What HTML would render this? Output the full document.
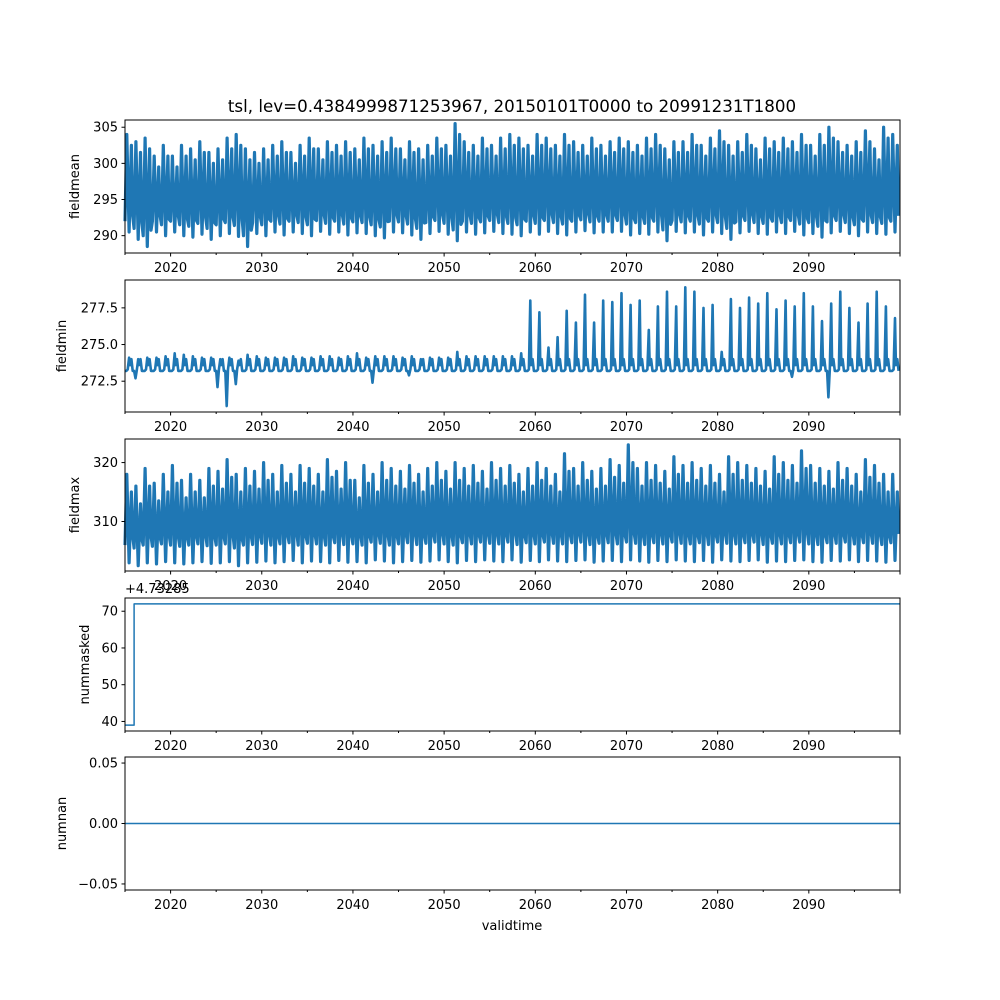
<!DOCTYPE html>
<html><head><meta charset="utf-8"><style>
body{margin:0;background:#fff}
svg{font-family:"DejaVu Sans","Liberation Sans",sans-serif;display:block}
</style></head><body>
<svg id="fig" width="1000" height="1000" viewBox="0 0 1000 1000">
<rect width="1000" height="1000" fill="#fff"/>
<text x="512" y="112" font-size="16.7" text-anchor="middle">tsl, lev=0.4384999871253967, 20150101T0000 to 20991231T1800</text>
<text x="512" y="930" font-size="13" text-anchor="middle">validtime</text>
<text x="125" y="593" font-size="13">+4.73285</text>
</svg>
<script>
// data (yearly values 2015..2099)
const years=[];for(let y=2015;y<2100;y++)years.push(y);
const meanHi=[304,303,303.5,301,302.5,301,302.5,302,303,301.5,302,303.5,304,302,301.5,302,302.5,303,301.5,302.5,303.5,302,303,302.5,303,302,303.5,302.5,303,303.5,302,303,302,302.5,303.5,302.5,305.5,303,302.5,303.5,302.5,303.5,304,303.5,302.5,304,303.5,302.5,304,303,302.5,303.5,302.5,303,303.5,303,302.5,303.5,304,302,303,303,304,302.5,303.5,304.5,302.5,303,304,302,303.5,303,303.5,303,304,302.5,304,305,303,302.5,303,304.5,302,305,304];
const meanLo=[290.5,289.5,288.5,290.5,290,290.5,290,289.8,290.2,289.5,290,290.3,289.9,288.5,290.3,290,290.5,290.1,290.5,290.3,290,290.6,290.2,290.5,290.1,290.4,290.3,290,289.7,290.5,290.4,290.1,289.5,290.3,290.6,290.2,289.3,290.5,290.2,290.4,290.6,290.3,290.2,290,290.5,290.2,290.6,290.3,290.1,290.5,290.7,290.4,290.5,290.5,290.6,290.1,290.3,290.2,290.5,289.3,290.6,290.4,290.5,290.1,290.5,290.3,289.5,290.4,290.6,290.3,290.2,290.5,290.3,290.6,290.1,290.3,289.8,290.4,290.6,290.3,290,290.5,290.3,290.2,290.5];
const minHi=[274.1,274.0,274.1,274.1,274.2,274.4,274.3,274.2,274.1,274.1,274.0,274.1,273.9,274.3,274.2,274.1,274.1,274.1,274.2,274.1,274.1,274.2,274.2,274.1,274.2,274.4,274.1,274.2,274.2,274.2,274.1,274.2,274.0,274.1,274.1,274.1,274.5,274.2,274.2,274.2,274.2,274.2,274.2,274.4,278.0,277.2,274.8,275.5,277.3,276.5,278.4,276.5,278.0,277.9,278.5,277.7,278.0,276.0,277.6,278.6,277.6,278.9,278.6,277.5,277.7,274.5,278.1,277.5,278.2,277.8,278.5,277.4,278.0,277.6,278.5,277.6,276.6,277.8,278.6,277.5,276.5,277.8,278.6,277.6,276.8];
const minLo=[273.2,272.7,273.2,273.2,273.2,273.2,273.2,273.2,273.2,273.2,272.1,270.8,272.3,273.2,273.2,273.2,273.2,273.2,273.2,273.2,273.2,273.2,273.2,273.2,273.2,273.2,273.2,272.4,273.2,273.2,273.2,272.9,273.2,273.2,273.2,273.2,273.2,273.2,273.2,273.2,273.2,273.2,273.2,273.2,273.2,273.2,273.2,273.2,273.2,273.2,273.2,273.2,273.2,273.2,273.2,273.2,273.2,273.2,273.2,273.2,273.2,273.2,273.2,273.2,273.2,273.2,273.2,273.2,273.2,273.2,273.2,273.2,273.2,272.8,273.2,273.2,273.2,271.4,273.2,273.2,273.2,273.2,273.2,273.2,273.2];
const maxHi=[318,316,319,316.5,318,319.5,317,318,317,319,318.5,320.5,318,319,318.5,320,318,319.5,318,319.5,319,318,320.5,318.5,320,317,319.5,318,320,319,318.5,319.5,318,319,320,318.5,320,319,319.5,318.5,320,319,319.5,318,319,320,319,318,321.5,319,320,318.5,319,320.5,319.5,323,319,320,319.5,318.5,321,319.5,320,319,319.5,318,321,320,319.5,319,318.5,321,320,319.5,322,319.5,319,318.5,320,319,318,320.5,319.5,318,318];
const maxLo=[303,302.5,303,302.8,303.2,303,302.8,303,303.2,302.9,303,303.2,302.5,303,303.1,303.3,303,303.2,303.4,303,303.3,303.2,303,303.4,303.1,303.2,303,303.5,303.3,303,303.2,303.4,303.1,303.3,303.5,303.2,303,303.4,303.2,303.5,303.3,303.2,303.5,303.1,303.4,303.2,303.5,303.3,303.2,303.4,303.5,303.1,303.3,303.4,303.2,303.5,303.3,303.1,303.4,303.2,303.5,303.3,303.2,303.4,303.1,303.5,303.3,303.2,303.4,303.5,303.1,303.3,303.2,303.4,303.5,303.2,303.1,303.4,303.3,303.5,303.2,303.4,303.3,303.1,303.4];
const maskedT=[2015.0,2016.0,2016.0,2100.0];
const maskedV=[39,39,72,72];
const xTicks=[2020,2030,2040,2050,2060,2070,2080,2090];
const xMinor=[2015,2025,2035,2045,2055,2065,2075,2085,2095];
const panels=[
 {name:'fieldmean',top:120,bot:253,lo:287.6,hi:306.0,ticks:[290,295,300,305],lbl:['290','295','300','305']},
 {name:'fieldmin',top:280,bot:412,lo:270.4,hi:279.4,ticks:[272.5,275.0,277.5],lbl:['272.5','275.0','277.5']},
 {name:'fieldmax',top:439,bot:571,lo:301.6,hi:324.0,ticks:[310,320],lbl:['310','320']},
 {name:'nummasked',top:598,bot:731,lo:37.4,hi:73.6,ticks:[40,50,60,70],lbl:['40','50','60','70']},
 {name:'numnan',top:757,bot:890,lo:-0.055,hi:0.055,ticks:[-0.05,0,0.05],lbl:['\u22120.05','0.00','0.05']}
];
const NS='http://www.w3.org/2000/svg',svg=document.getElementById('fig');
const X0=125,X1=900,T0=2015,T1=2100;
const xs=t=>X0+(t-T0)/(T1-T0)*(X1-X0);
function mk(tag,attrs,parent){const e=document.createElementNS(NS,tag);for(const k in attrs)e.setAttribute(k,attrs[k]);(parent||svg).appendChild(e);return e;}
const C='#1f77b4';
panels.forEach((p,pi)=>{
 const ys=v=>p.bot-(v-p.lo)/(p.hi-p.lo)*(p.bot-p.top);
 const g=mk('g',{});
 
 
 let pts=[];
 if(pi===0||pi===2){
  const H=pi===0?meanHi:maxHi,L=pi===0?meanLo:maxLo;
  years.forEach((y,i)=>{
   const d=pi===0?1.5:3;
   pts.push([y+0.0,L[i]+d],[y+0.2,H[i]],[y+0.45,L[i]],[y+0.7,H[i]-d],[y+0.85,L[i]+d*1.5]);
  });
 } else if(pi===1){
  years.forEach((y,i)=>{
   pts.push([y,273.2],[y+0.15,minLo[i]],[y+0.3,273.3],[y+0.45,minHi[i]],[y+0.55,273.6],[y+0.7,274.0],[y+0.85,273.2]);
  });
 } else if(pi===3){
  maskedT.forEach((t,i)=>pts.push([t,maskedV[i]]));
 } else {
  pts=[[T0,0],[T1,0]];
 }
 const sw=(pi===0||pi===2)?3.2:(pi===1?2.6:1.5);
 const path=mk('polyline',{points:pts.map(q=>xs(Math.min(T1,q[0])).toFixed(1)+','+ys(q[1]).toFixed(1)).join(' '),fill:'none',stroke:C,'stroke-width':sw,'stroke-linejoin':'round'},g);
 
 
 const fr=mk('rect',{x:X0,y:p.top,width:X1-X0,height:p.bot-p.top,fill:'none',stroke:'#000','stroke-width':1},g);
 
 
 p.ticks.forEach((v,i)=>{
  const y=ys(v);
  mk('line',{x1:X0-3.5,x2:X0,y1:y,y2:y,stroke:'#000'},g);
  const t=mk('text',{x:X0-7,y:y+4.5,'font-size':13,'text-anchor':'end'},g);
  t.textContent=p.lbl[i];
  
  
 });
 const yt=mk('text',{x:0,y:0,'font-size':13,'text-anchor':'middle',transform:'translate('+(pi===1||pi===4?66:pi===3?89:79)+','+((p.top+p.bot)/2)+') rotate(-90)'},g);
 yt.textContent=p.name;
 
 
 xMinor.forEach(t=>mk('line',{x1:xs(t),x2:xs(t),y1:p.bot,y2:p.bot+2,stroke:'#000'},g));
 mk('line',{x1:X1,x2:X1,y1:p.bot,y2:p.bot+3.5,stroke:'#000'},g);
 xTicks.forEach(t=>{
  mk('line',{x1:xs(t),x2:xs(t),y1:p.bot,y2:p.bot+3.5,stroke:'#000'},g);
  const tx=mk('text',{x:xs(t),y:p.bot+19,'font-size':13,'text-anchor':'middle'},g);
  tx.textContent=t;
  
  
 });
});
</script>
</body></html>
